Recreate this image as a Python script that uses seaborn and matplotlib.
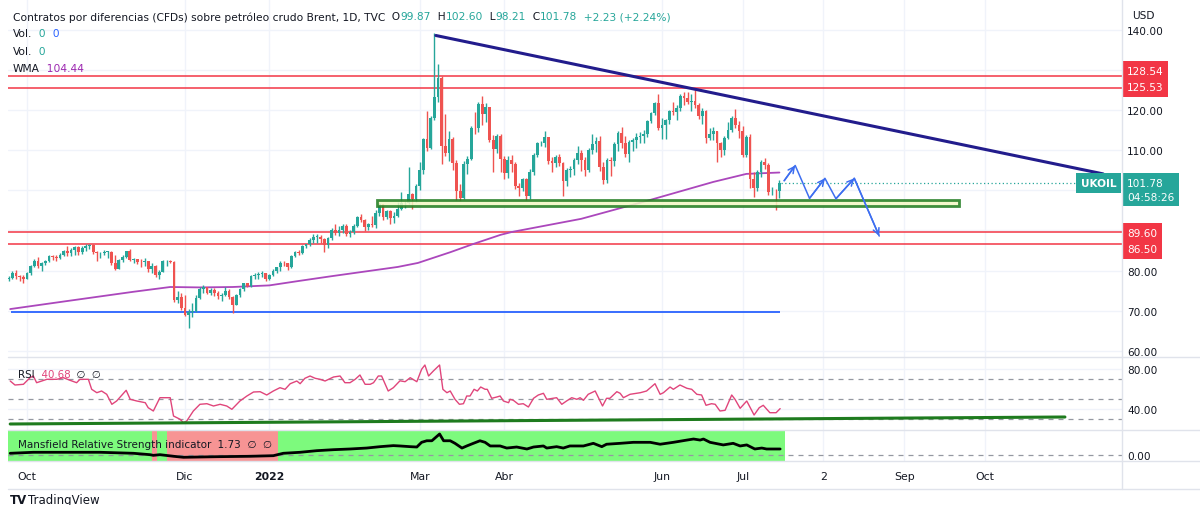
import numpy as np
import pandas as pd
import matplotlib
matplotlib.use("Agg")
import matplotlib.pyplot as plt
from matplotlib.patches import Rectangle
from matplotlib.lines import Line2D
import seaborn as sns

# ---------------- data ----------------
first_session = "2021-09-24"

opens = [77.8, 78.1, 79.5, 78.6, 78.4,
         78.0, 79.3, 81.2, 82.5, 81.1, 81.9, 82.4, 83.6, 83.4, 83.2, 84.0, 84.9, 84.3, 85.1, 85.8, 84.6, 85.5, 86.0, 86.4, 84.6, 84.3,
         84.4, 84.7, 84.7, 82.0, 80.5, 82.7, 83.4, 84.8, 82.6, 82.9, 82.2, 82.1, 82.4, 80.3, 81.2, 78.9, 79.7, 82.3, 82.3, 82.2, 72.7, 73.4,
         70.6, 68.9, 69.7, 69.9, 73.1, 75.4, 75.8, 74.4, 75.2, 74.4, 73.7, 73.9, 75.0, 73.5, 71.5, 74.0, 75.3, 76.9, 76.1, 78.6, 78.9, 79.2, 79.3,
         77.8, 79.0, 80.0, 80.8, 82.0, 81.8, 80.9, 83.7, 84.7, 84.5, 86.1, 86.5, 87.5, 88.4, 88.4, 87.9, 86.3, 88.2, 90.0, 89.3, 90.0,
         91.2, 89.2, 89.5, 91.1, 93.3, 92.7, 90.8, 91.6, 91.4, 94.4, 96.5, 93.3, 94.8, 93.0, 93.5, 95.4, 96.8, 96.8, 99.1, 97.9,
         101.0, 105.0, 112.9, 110.5, 118.1, 123.2, 128.0, 111.1, 109.3, 112.7, 106.9, 99.9, 98.0, 106.6, 107.9, 115.6, 115.5, 121.6, 119.0, 120.7, 112.5, 110.2, 113.5,
         107.9, 104.4, 107.5, 106.6, 101.1, 100.6, 102.8, 98.5, 104.6, 108.8, 111.7, 111.9, 113.2, 107.3, 106.8, 108.3, 106.7, 102.3, 105.0, 105.3, 107.6,
         109.3, 107.6, 105.0, 110.1, 111.6, 112.4, 105.9, 102.5, 107.5, 107.4, 111.6, 114.2, 111.9, 109.1, 112.0, 112.6, 113.4, 113.6, 114.0, 117.4, 119.4, 121.7,
         115.6, 116.3, 117.6, 119.7, 119.5, 120.6, 123.6, 123.1, 122.0, 122.3, 121.2, 118.5, 119.8, 113.1, 114.1, 114.7, 111.7, 110.1, 113.1, 115.1, 118.0, 116.3,
         114.8, 108.9, 113.3, 102.8, 100.7, 104.6, 107.0, 106.4, 99.5, 99.6, 99.87]
highs = [78.6, 79.8, 80.2, 79.0, 78.8,
         79.6, 81.5, 82.8, 83.4, 82.2, 82.6, 84.0, 83.9, 84.0, 84.4, 85.1, 86.0, 85.5, 86.0, 86.1, 86.0, 86.7, 86.7, 86.6, 84.9, 84.6,
         85.2, 85.0, 84.8, 83.8, 83.0, 83.9, 85.0, 85.3, 83.2, 83.0, 82.8, 83.1, 82.5, 81.9, 81.4, 80.1, 82.6, 82.6, 82.6, 82.4, 74.8, 74.4,
         74.0, 70.4, 71.9, 73.8, 75.8, 76.5, 76.0, 75.6, 75.7, 74.8, 74.5, 75.8, 75.3, 73.6, 74.1, 75.6, 76.9, 77.0, 78.8, 79.3, 79.6, 79.8, 79.5,
         79.2, 80.3, 80.9, 82.3, 82.5, 82.0, 83.9, 85.0, 85.2, 86.4, 86.7, 88.1, 89.2, 89.1, 88.9, 88.1, 88.4, 90.5, 91.7, 91.0, 91.7,
         91.5, 90.2, 91.7, 93.7, 94.0, 92.9, 91.9, 93.5, 95.0, 96.8, 96.6, 95.1, 95.0, 94.7, 97.2, 99.5, 97.4, 105.8, 99.4, 101.6,
         107.0, 113.0, 119.8, 118.6, 139.1, 131.6, 128.4, 119.0, 114.8, 113.4, 107.5, 101.5, 107.2, 108.5, 116.0, 119.5, 122.0, 123.5, 121.7, 120.9, 113.9, 114.0, 114.1,
         108.5, 108.6, 108.9, 107.1, 101.9, 103.0, 103.1, 105.3, 109.2, 112.0, 112.3, 114.8, 113.3, 108.2, 108.8, 109.0, 107.0, 105.6, 106.0, 108.0, 111.0,
         110.0, 108.2, 110.6, 114.0, 113.2, 113.5, 107.0, 108.0, 108.4, 112.0, 114.8, 115.8, 113.6, 112.6, 113.0, 114.4, 114.6, 115.0, 117.6, 119.6, 122.0, 124.0,
         118.0, 117.8, 120.0, 121.9, 121.2, 124.0, 124.4, 124.6, 124.0, 125.0, 121.8, 120.5, 120.0, 115.5, 115.8, 114.8, 112.0, 113.6, 117.0, 118.6, 120.3, 117.3,
         116.0, 113.9, 114.0, 104.5, 105.0, 107.6, 108.0, 106.8, 100.8, 100.3, 102.60]
lows = [77.4, 77.9, 78.0, 77.4, 76.8,
        77.8, 79.0, 80.9, 80.6, 79.8, 81.4, 82.1, 82.6, 82.4, 82.9, 83.6, 83.6, 83.6, 84.0, 83.8, 84.2, 85.0, 85.4, 84.2, 82.3, 83.2,
        83.8, 83.2, 81.4, 80.2, 80.4, 82.2, 83.2, 82.4, 81.8, 81.6, 81.0, 81.2, 79.6, 79.3, 78.4, 77.8, 79.6, 81.2, 81.9, 72.1, 72.0, 70.1,
        68.6, 65.7, 68.3, 69.6, 73.0, 74.3, 74.1, 73.8, 73.6, 72.9, 72.5, 73.6, 72.9, 69.3, 71.3, 73.4, 74.9, 75.8, 75.9, 78.0, 78.0, 78.4, 77.3,
        77.6, 78.6, 79.4, 79.8, 81.2, 80.1, 80.6, 83.3, 84.0, 84.1, 85.6, 86.0, 86.8, 86.8, 86.8, 84.6, 85.6, 87.7, 88.8, 88.7, 89.4,
        88.7, 88.3, 89.1, 90.9, 92.0, 89.9, 90.1, 90.8, 90.7, 93.7, 92.5, 92.8, 91.6, 91.8, 93.4, 95.0, 95.6, 96.5, 95.4, 97.1,
        100.1, 104.0, 109.8, 110.2, 117.5, 122.0, 106.5, 108.6, 107.4, 105.0, 97.6, 97.4, 97.9, 104.0, 107.6, 114.0, 114.6, 116.4, 117.0, 112.0, 104.6, 109.4, 104.6,
        102.8, 103.0, 104.6, 100.3, 98.5, 99.8, 97.6, 97.9, 103.9, 108.2, 111.0, 110.9, 106.6, 104.5, 105.7, 106.1, 98.6, 101.1, 103.2, 103.8, 106.6,
        104.8, 103.5, 104.5, 109.0, 109.5, 104.7, 101.7, 101.8, 103.6, 106.0, 109.9, 110.5, 108.2, 107.0, 109.9, 110.5, 111.8, 111.8, 113.4, 116.7, 118.8, 115.0,
        112.7, 112.7, 116.5, 118.9, 117.5, 119.8, 121.3, 121.5, 119.9, 120.6, 117.9, 116.5, 111.8, 112.5, 112.6, 107.0, 108.3, 108.8, 112.8, 114.6, 115.5, 113.0,
        108.2, 108.4, 100.6, 98.3, 99.9, 103.4, 105.3, 98.8, 98.9, 95.0, 98.21]
closes = [78.1, 79.5, 78.6, 78.4, 78.0,
          79.3, 81.2, 82.5, 81.1, 81.9, 82.4, 83.6, 83.4, 83.2, 84.0, 84.9, 84.3, 85.1, 85.8, 84.6, 85.5, 86.0, 86.4, 84.6, 84.3, 84.4,
          84.7, 84.7, 82.0, 80.5, 82.7, 83.4, 84.8, 82.6, 82.9, 82.2, 82.1, 82.4, 80.3, 81.2, 78.9, 79.7, 82.3, 82.3, 82.2, 72.7, 73.4, 70.6,
          68.9, 69.7, 69.9, 73.1, 75.4, 75.8, 74.4, 75.2, 74.4, 73.7, 73.9, 75.0, 73.5, 71.5, 74.0, 75.3, 76.9, 76.1, 78.6, 78.9, 79.2, 79.3, 77.8,
          79.0, 80.0, 80.8, 82.0, 81.8, 80.9, 83.7, 84.7, 84.5, 86.1, 86.5, 87.5, 88.4, 88.4, 87.9, 86.3, 88.2, 90.0, 89.3, 90.0, 91.2,
          89.2, 89.5, 91.1, 93.3, 92.7, 90.8, 91.6, 91.4, 94.4, 96.5, 93.3, 94.8, 93.0, 93.5, 95.4, 96.8, 96.8, 99.1, 97.9, 101.0,
          105.0, 112.9, 110.5, 118.1, 123.2, 128.0, 111.1, 109.3, 112.7, 106.9, 99.9, 98.0, 106.6, 107.9, 115.6, 115.5, 121.6, 119.0, 120.7, 112.5, 110.2, 113.5, 107.9,
          104.4, 107.5, 106.6, 101.1, 100.6, 102.8, 98.5, 104.6, 108.8, 111.7, 111.9, 113.2, 107.3, 106.8, 108.3, 106.7, 102.3, 105.0, 105.3, 107.6, 109.3,
          107.6, 105.0, 110.1, 111.6, 112.4, 105.9, 102.5, 107.5, 107.4, 111.6, 114.2, 111.9, 109.1, 112.0, 112.6, 113.4, 113.6, 114.0, 117.4, 119.4, 121.7, 115.6,
          116.3, 117.6, 119.7, 119.5, 120.6, 123.6, 123.1, 122.0, 122.3, 121.2, 118.5, 119.8, 113.1, 114.1, 114.7, 111.7, 110.1, 113.1, 115.1, 118.0, 116.3, 114.8,
          108.9, 113.3, 102.8, 100.7, 104.6, 107.0, 106.4, 99.5, 99.6, 99.55, 101.78]

# WMA (bar number counted from the first session, value)
wma_bar = [0.4, 15.9, 33.9, 44, 52, 61, 71, 79, 88, 106, 111.5, 120.4, 126.5, 134, 137, 156, 174, 192, 201, 210]
wma_val = [70.4, 72.4, 74.7, 75.9, 75.8, 75.9, 76.3, 77.4, 78.6, 80.9, 81.9, 84.6, 86.6, 88.9, 89.6, 92.9, 97.4, 102.1, 104.1, 104.44]

rsi_bar = [0.4, 1.7, 4, 5.8, 6.7, 7.6, 10.4, 13.1, 14.9, 16.7, 18.5, 19.4, 21.7, 22.6, 24, 25.3, 26.7, 28.1, 29.4, 32,
           33.1, 34.9, 37.2, 38, 39.4, 41.2, 44, 44.9, 46.7, 47.6, 48.5, 50.3, 52.1, 54, 55.8, 57.6, 59.4, 60.8, 63, 64.9,
           66.7, 68.5, 70.3, 72.1, 73.9, 75.3, 76.7, 78.5, 79.4, 80.7, 82.1, 83.5, 84.8, 86.2, 88.5, 90.3, 91.6, 93, 94.4, 95.7,
           97.1, 98.5, 99.4, 100.7, 101.6, 103.4, 104.8, 106.6, 108, 109.4, 111.2, 112.5, 113.4, 114.4, 115.7, 117.4, 118.3, 119.4, 120.3, 121.6,
           122.8, 123.9, 124.8, 125.7, 126.8, 127.7, 128.6, 129.8, 130.4, 131.6, 133, 133.9, 134.8, 136.2, 136.6, 137.5, 138.9, 140.2, 141.6, 143,
           144.3, 145.7, 146.6, 148.4, 149.3, 150.7, 152, 153.4, 154.8, 155.7, 156.6, 157.9, 159.8, 160.7, 161.8, 162.9, 163.8, 165.7, 166.6, 167.5,
           169.3, 172.1, 173.8, 176.1, 177.5, 178.4, 180.2, 181.1, 182.9, 184.8, 186.1, 187.5, 188.8, 190, 191.5, 192.5, 193.8, 195.2, 197, 197.9,
           199.3, 201.1, 203.1, 204.5, 205.6, 207.4, 209.1, 210.2]
rsi_val = [68.3, 64.3, 65, 71.6, 73.3, 66.6, 70, 70, 71.6, 69, 66.6, 70, 70, 60, 56.6, 58.3, 55, 45, 48.3, 59,
           50, 48.3, 46.6, 41.6, 38.3, 51.6, 51.6, 33.3, 30, 26.6, 28.3, 38.3, 45, 45.6, 43.3, 45, 43.3, 40, 48.3, 53.3,
           57.3, 57.6, 54.3, 58.3, 61.6, 60, 65.6, 68.3, 65.6, 71, 73.3, 71, 70, 68.3, 72.3, 73.3, 66.6, 66.6, 70, 74.3,
           65, 65, 66.6, 73.3, 73.3, 58.3, 61.6, 68.5, 67.6, 71.6, 67.6, 80, 84.3, 73.3, 78.3, 84.3, 60, 56.6, 58.3, 50,
           45, 45.6, 53.3, 53.3, 60, 58.3, 62.3, 60, 60, 51, 52.3, 53.3, 48.3, 46.6, 50, 49, 45, 45.6, 42.3, 51,
           54.3, 56, 50, 51, 51.6, 45, 48.3, 51.6, 50, 51.6, 49, 55, 58.3, 51.6, 43.3, 51, 51, 57.6, 56, 51.6,
           55, 56.6, 58.3, 65.6, 55, 56.6, 62.3, 60, 64.3, 61, 60, 55, 54.3, 44, 45.6, 45, 38.3, 39, 54.3, 50,
           41, 48.3, 34.3, 41.6, 44, 36.6, 36.6, 40.68]

# Mansfield Relative Strength
mrs_bar = [0.4, 6.7, 15.8, 24.9, 34, 38.5, 39.4, 41.2, 44.9, 47.6, 56.7, 65.8, 72.1, 74.8, 79.4, 83.9, 88.5, 93, 97.5, 101.2,
           104.8, 106.6, 109.4, 111.2, 112.5, 113.9, 115.3, 117.4, 118.5, 120.3, 121.6, 123.5, 124.8, 126.6, 128.4, 129.8, 131.2, 133.9, 135.7, 138.4,
           141.2, 143, 145.7, 146.6, 149.3, 151.1, 152.9, 156.6, 159.3, 161.6, 162.9, 166.6, 170.2, 174.8, 177.5, 181.1, 184.8, 186.6, 188.4, 189.3,
           191.1, 194.7, 197.4, 199.3, 201.1, 203.3, 205.2, 206.5, 210.2]
mrs_val = [0.49, 0.78, 0.78, 0.78, 0.49, 0.09, -0.1, 0.09, -0.37, -0.66, -0.49, -0.37, -0.2, 0.49, 0.78, 1.24, 1.53, 1.73, 2.0, 2.4,
           2.7, 2.6, 2.4, 2.3, 3.65, 4.1, 4.1, 6.05, 4.1, 4.1, 3.36, 2.0, 2.6, 3.36, 4.1, 3.65, 2.6, 2.6, 2.0, 2.3,
           1.73, 2.3, 2.6, 2.0, 2.4, 2.0, 2.6, 2.6, 3.36, 2.4, 3.1, 3.36, 3.65, 3.65, 3.1, 3.65, 4.3, 4.6, 4.3, 4.6,
           3.65, 2.9, 3.36, 2.6, 2.9, 1.73, 2.0, 1.73, 1.73]

red_levels = [128.54, 125.53, 89.60, 86.50]
support_level = 69.65
support_bars = [0.5, 210.2]
trend_bars = [116.4, 298.2]
trend_prices = [138.6, 104.1]
zone_bars = [100.3, 259.0]
zone_prices = [96.18, 97.68]
path_bars = [211.3, 214.3, 218.2, 222.4, 225.4, 230.4, 237.2]
path_prices = [102.4, 106.2, 98.0, 103.0, 97.9, 103.0, 88.6]
rsi_trend_bars = [0.4, 287.8]
rsi_trend_vals = [25.3, 32.3]

tick_dates = ["2021-10-01", "2021-12-01", "2022-01-03", "2022-03-01", "2022-04-01",
              "2022-06-01", "2022-07-01", "2022-08-02", "2022-09-01", "2022-10-03"]
tick_labels = ["Oct", "Dic", "2022", "Mar", "Abr", "Jun", "Jul", "2", "Sep", "Oct"]

# ---------------- style ----------------
sns.set_theme(style="white")
plt.rcParams['font.family'] = ['DejaVu Sans']
TXT = '#131722'
GREEN = '#26a69a'
RED = '#ef5350'
LEVEL_RED = '#f23645'
GRID = '#f0f3fa'
SEP = '#e0e3eb'

W, H = 1200, 506
fig = plt.figure(figsize=(W / 100, H / 100), dpi=100)
fig.patch.set_facecolor('white')


def rect(x0, y0, x1, y1):
    return [x0 / W, 1 - y1 / H, (x1 - x0) / W, (y1 - y0) / H]


PL, PR = 8, 1122
ax = fig.add_axes(rect(PL, 0, PR, 358))
ax_r = fig.add_axes(rect(PL, 358, PR, 431), sharex=ax)
ax_m = fig.add_axes(rect(PL, 431, PR, 462), sharex=ax)

sessions = pd.bdate_range(first_session, "2022-12-30")
pos = {d: i for i, d in enumerate(sessions)}
tick_pos = [pos[pd.Timestamp(d)] for d in tick_dates]

n = len(closes)
xi = np.arange(n)
o = np.array(opens); h = np.array(highs); l = np.array(lows); c = np.array(closes)
col = np.where(c >= o, GREEN, RED)

for a in (ax, ax_r, ax_m):
    a.set_facecolor('white')
    for s in a.spines.values():
        s.set_visible(False)
    for t in tick_pos:
        a.axvline(t, color=GRID, lw=1, zorder=0)
    a.yaxis.tick_right()
    a.tick_params(axis='both', length=0, labelsize=7.6, colors=TXT, pad=3.6)

ax.set_xlim(-0.2, 303.35)

# ---- main price pane ----
for v in range(60, 150, 10):
    ax.axhline(v, color=GRID, lw=1, zorder=0)
ax.set_ylim(58.45, 147.7)
ax.set_yticks(list(range(60, 150, 10)))
ax.set_yticklabels(["" if v in (90, 100, 130) else f"{v:.2f}" for v in range(60, 150, 10)])
ax.tick_params(labelbottom=False)
ax_r.tick_params(labelbottom=False)

for v in red_levels:
    ax.axhline(v, color=LEVEL_RED, lw=1.1, zorder=2)
ax.hlines(support_level, support_bars[0], support_bars[1], color='#2962ff', lw=1.3, zorder=2)

sns.lineplot(x=wma_bar, y=wma_val, ax=ax, color='#ab47bc', lw=1.3, sort=False, zorder=3)

ax.vlines(xi, l, h, colors=col, lw=1, zorder=4)
ax.bar(xi, np.maximum(np.abs(c - o), 0.15), bottom=np.minimum(o, c), width=0.75,
       color=col, linewidth=0, zorder=5)

ax.add_patch(Rectangle((zone_bars[0], zone_prices[0]), zone_bars[1] - zone_bars[0],
                       zone_prices[1] - zone_prices[0], facecolor='#f3f7c4', alpha=0.85,
                       edgecolor='#1e7b1e', lw=2, zorder=6))

sns.lineplot(x=trend_bars, y=trend_prices, ax=ax, color='#221c8c', lw=2.2, sort=False, zorder=6)

ax.hlines(c[-1], n - 0.5, 303.35, color=GREEN, lw=0.9, linestyles=(0, (1, 2)), zorder=3)

ARROW = '#3d6ef0'
sns.lineplot(x=path_bars, y=path_prices, ax=ax, color=ARROW, lw=1.1, sort=False, zorder=7)
for k in (0, 2, 4, 5):
    ax.annotate("", xy=(path_bars[k + 1], path_prices[k + 1]), xytext=(path_bars[k], path_prices[k]),
                arrowprops=dict(arrowstyle='->', color=ARROW, lw=1.1, shrinkA=0, shrinkB=0,
                                mutation_scale=11), zorder=7)

# right-hand labels
shift_px = [5.3, 0.8, -0.5, -4.8]
for v, dy in zip(red_levels, shift_px):
    ax.annotate(f"{v:.2f}", xy=(1, v), xycoords=('axes fraction', 'data'),
                xytext=(3.6, dy * 0.72), textcoords='offset points', ha='left', va='center',
                color='white', fontsize=7.6, annotation_clip=False,
                bbox=dict(boxstyle='square,pad=0.42', fc=LEVEL_RED, ec='none'), zorder=10)
ax.annotate(f"{c[-1]:.2f}\n04:58:26", xy=(1, c[-1]), xycoords=('axes fraction', 'data'),
            xytext=(3.6, -4.7), textcoords='offset points', ha='left', va='center',
            color='white', fontsize=7.6, linespacing=1.45, annotation_clip=False,
            bbox=dict(boxstyle='square,pad=0.42', fc=GREEN, ec='none'), zorder=10)
ax.annotate("UKOIL", xy=(1, c[-1]), xycoords=('axes fraction', 'data'),
            xytext=(-4, 0), textcoords='offset points', ha='right', va='center',
            color='white', fontsize=7.6, fontweight='bold', annotation_clip=False,
            bbox=dict(boxstyle='square,pad=0.45', fc=GREEN, ec='none'), zorder=10)
fig.text(1132 / W, 1 - 15.7 / H, "USD", fontsize=7.6, color=TXT, va='center', ha='left',
         bbox=dict(boxstyle='square,pad=0.55', fc='white', ec='none'), zorder=20)

# ---- RSI pane ----
ax_r.set_ylim(19.3, 92.3)
ax_r.set_yticks([40, 80])
ax_r.set_yticklabels(["40.00", "80.00"])
for v in (40, 80):
    ax_r.axhline(v, color=GRID, lw=1, zorder=0)
for v in (70, 50, 30):
    ax_r.axhline(v, color='#9598a1', lw=0.9, dashes=(4, 4), zorder=1)
sns.lineplot(x=rsi_bar, y=rsi_val, ax=ax_r, color='#e0457b', lw=1.0, sort=False, zorder=3)
sns.lineplot(x=rsi_trend_bars, y=rsi_trend_vals, ax=ax_r, color='#1e7b1e', lw=2.2, sort=False, zorder=4)

# ---- Mansfield pane ----
ax_m.set_ylim(-1.73, 7.2)
ax_m.set_yticks([0])
ax_m.set_yticklabels(["0.00"])
mb = np.array(mrs_bar); mv = np.array(mrs_val)
ax_m.axvspan(-0.5, n - 1 + 1.5, color='#7dfa7d', lw=0, zorder=0.5)
for k in np.where(mv < 0)[0]:
    ax_m.axvspan((mb[k - 1] + mb[k]) / 2, (mb[k] + mb[k + 1]) / 2, color='#f79494', lw=0, zorder=0.6)
ax_m.axhline(0, color='#9598a1', lw=0.9, dashes=(4, 4), zorder=1)
sns.lineplot(x=mrs_bar, y=mrs_val, ax=ax_m, color='black', lw=2.0, sort=False, zorder=3)

ax_m.set_xticks(tick_pos)
ax_m.set_xticklabels(tick_labels)
ax_m.tick_params(axis='x', pad=7.5, labelsize=7.8)
for t in ax_m.get_xticklabels():
    if t.get_text() == "2022":
        t.set_fontweight('bold')
for a in (ax, ax_r, ax_m):
    a.set_xlabel(""); a.set_ylabel("")
    if a.get_legend() is not None:
        a.get_legend().remove()

# separators
for y in (358, 431, 462, 490):
    fig.add_artist(Line2D([PL / W, 1], [1 - y / H, 1 - y / H], color=SEP, lw=1))
fig.add_artist(Line2D([PR / W, PR / W], [1 - 490 / H, 1], color=SEP, lw=1))

# ---- text legends ----
renderer = fig.canvas.get_renderer()


def chain(x_px, y_px, parts, size):
    x = x_px
    for s, colr in parts:
        t = fig.text(x / W, 1 - y_px / H, s, color=colr, fontsize=size, va='center', ha='left', zorder=20)
        x = t.get_window_extent(renderer=renderer).x1


chg = c[-1] - c[-2]
chain(13, 17.5, [("Contratos por diferencias (CFDs) sobre petróleo crudo Brent, 1D, TVC", TXT),
                 ("  O", TXT), (f"{o[-1]:.2f}", GREEN), ("  H", TXT), (f"{h[-1]:.2f}", GREEN),
                 ("  L", TXT), (f"{l[-1]:.2f}", GREEN), ("  C", TXT), (f"{c[-1]:.2f}", GREEN),
                 (f"  {chg:+.2f} ({chg / c[-2] * 100:+.2f}%)", GREEN)], 7.7)
chain(13, 34.5, [("Vol.", TXT), ("  0", GREEN), ("  0", '#2962ff')], 7.7)
chain(13, 52, [("Vol.", TXT), ("  0", GREEN)], 7.7)
chain(13, 69.5, [("WMA", TXT), (f"  {wma_val[-1]:.2f}", '#9c27b0')], 7.7)
chain(18, 375, [("RSI", TXT), (f"  {rsi_val[-1]:.2f}", '#e0457b'), ("  \u2205  \u2205", TXT)], 7.4)
chain(18, 445, [("Mansfield Relative Strength indicator", TXT), (f"  {mrs_val[-1]:.2f}", TXT),
                ("  \u2205  \u2205", TXT)], 7.5)

fig.text(10 / W, 1 - 494 / H, "TV", fontsize=8.5, fontweight='bold', color=TXT, va='top', ha='left')
fig.text(28 / W, 1 - 494 / H, "TradingView", fontsize=8.5, color=TXT, va='top', ha='left')

fig.savefig("out.png", dpi=100, facecolor='white')
